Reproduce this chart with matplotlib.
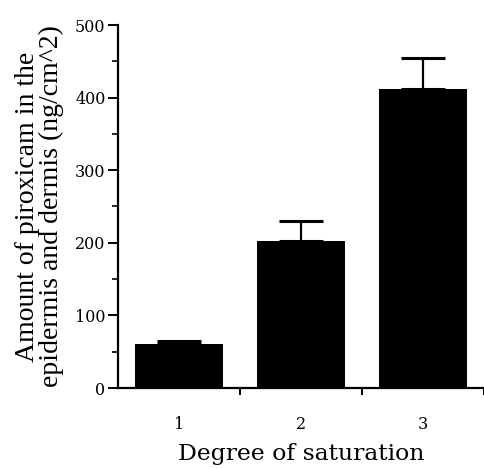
import matplotlib
matplotlib.use("Agg")
import matplotlib.pyplot as plt
from matplotlib.ticker import MultipleLocator, FixedLocator

# data
categories = ["1", "2", "3"]
amounts = [60, 202, 412]
errors = [5, 28, 42]

plt.rcParams["font.family"] = ["DejaVu Serif"]

fig = plt.figure(figsize=(4.85, 4.69), dpi=100)
ax = fig.add_axes([118 / 485, 81 / 469, 366 / 485, 363 / 469])

x = list(range(1, len(categories) + 1))
ax.bar(x, amounts, width=0.72, color="black", zorder=2)
ax.errorbar(x, amounts, yerr=[[0] * len(errors), errors], fmt="none",
            ecolor="black", elinewidth=1.6, capsize=16, capthick=2.2, zorder=3)

ax.set_xlim(0.5, 3.5)
ax.set_ylim(0, 500)
ax.spines["top"].set_visible(False)
ax.spines["right"].set_visible(False)
ax.spines["left"].set_linewidth(1.6)
ax.spines["bottom"].set_linewidth(1.6)

ax.yaxis.set_major_locator(MultipleLocator(100))
ax.yaxis.set_minor_locator(MultipleLocator(50))
ax.tick_params(axis="y", which="major", length=7, width=1.4, labelsize=11.5, pad=2)
ax.tick_params(axis="y", which="minor", length=4, width=1.2)

# category labels at bar centres, ticks at the boundaries between bars
ax.xaxis.set_major_locator(FixedLocator(x))
ax.set_xticklabels(categories)
ax.tick_params(axis="x", which="major", length=0, labelsize=11.5, pad=20)
ax.xaxis.set_minor_locator(FixedLocator([1.5, 2.5, 3.5]))
ax.tick_params(axis="x", which="minor", length=5, width=1.4)

ax.set_xlabel("Degree of saturation", fontsize=16.9, labelpad=7)
ax.set_ylabel("Amount of piroxicam in the\nepidermis and dermis (ng/cm^2)",
              fontsize=20, labelpad=8, linespacing=0.95,
              family=["Liberation Serif", "DejaVu Serif"])

fig.savefig("out.png", dpi=100)
